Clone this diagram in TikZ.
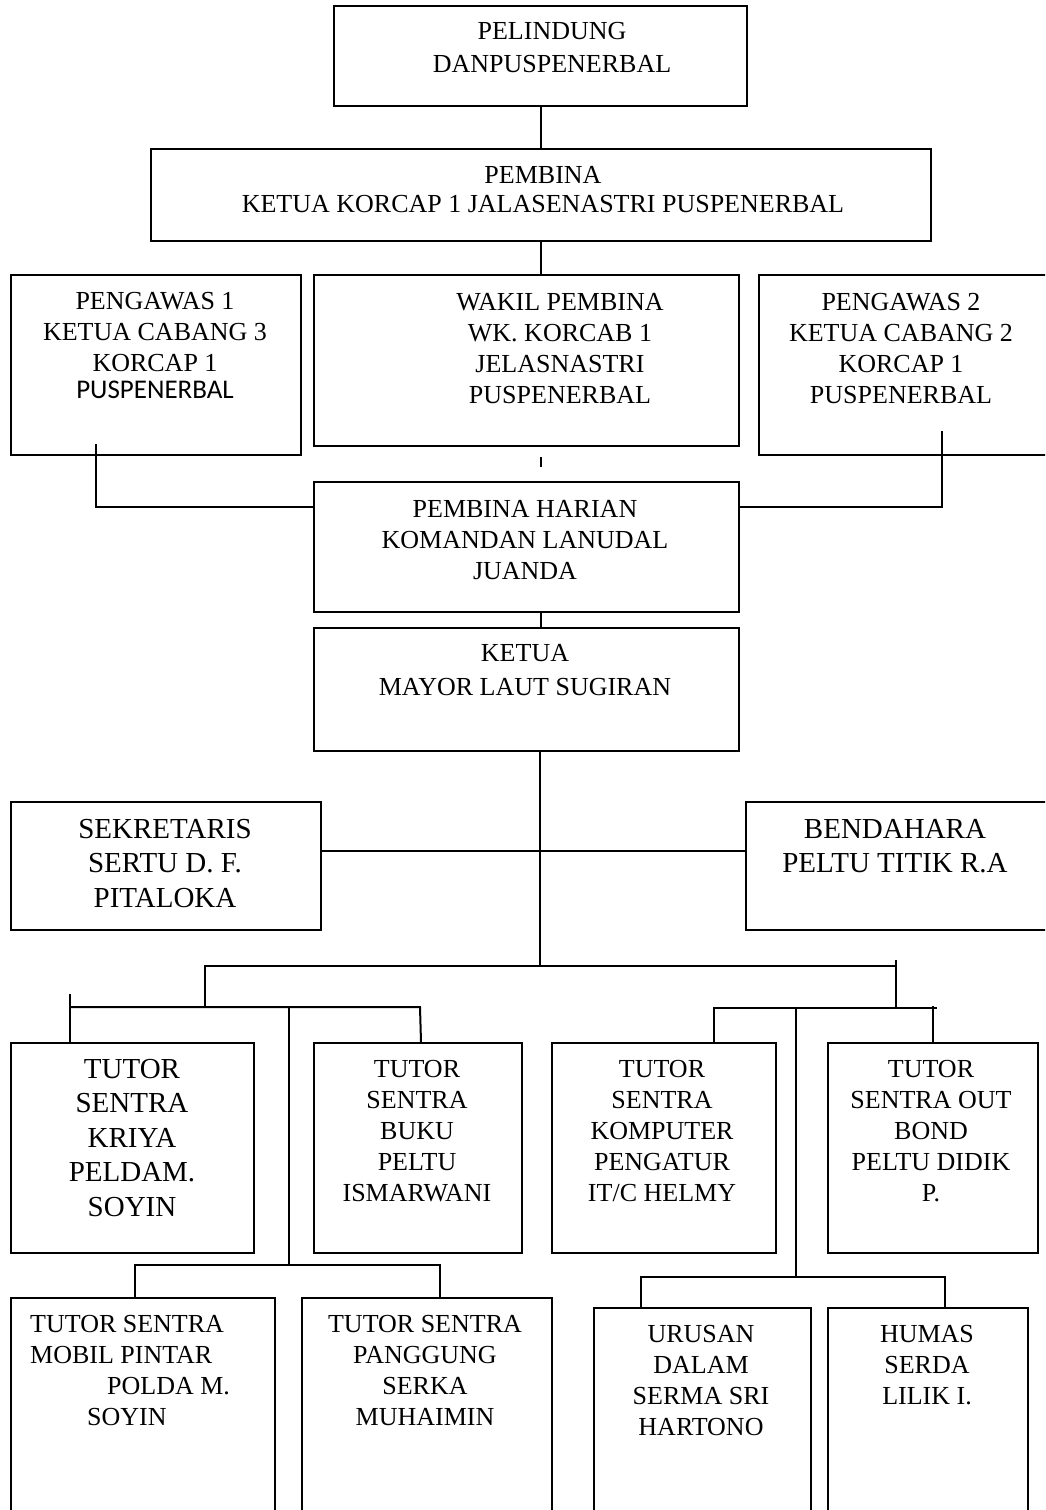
\documentclass[tikz,border=0pt]{standalone}
\usepackage{fontspec}
\setmainfont{Liberation Serif}
\newfontfamily\calibri{Carlito}
\usetikzlibrary{calc}

\tikzset{
  box/.style={draw, line width=2pt, inner sep=0pt, anchor=north west},
  txt/.style={align=center, inner sep=0pt, anchor=north, font=\fontsize{26}{31}\selectfont},
  bigtxt/.style={txt, font=\fontsize{29}{34.5}\selectfont},
  link/.style={line width=2pt}
}

\begin{document}
\begin{tikzpicture}[x=1pt, y=-1pt]
\useasboundingbox (0,0) rectangle (1045,1510);
\clip (0,0) rectangle (1045,1510);

% top of the chart
\node[box, minimum width=413, minimum height=100] (pel) at (333,5) {};
\node[txt] at (552,22) {PELINDUNG\\[2pt]DANPUSPENERBAL};
\node[box, minimum width=780, minimum height=92] (pemb) at (150,148) {};
\node[txt] at (543,166) {PEMBINA\\[-2pt]KETUA KORCAP 1 JALASENASTRI PUSPENERBAL};

\node[box, minimum width=290, minimum height=180] (peng1) at (10,274) {};
\node[txt] at (155,292) {PENGAWAS 1\\KETUA CABANG 3\\KORCAP 1\\[-4pt]{\calibri\fontsize{27}{31}\selectfont PUSPENERBAL}};
\node[box, minimum width=425, minimum height=171] (wakil) at (313,274) {};
\node[txt] at (560,293) {WAKIL PEMBINA\\WK. KORCAB 1\\JELASNASTRI\\PUSPENERBAL};
\node[box, minimum width=292, minimum height=180] (peng2) at (758,274) {};
\node[txt] at (901,293) {PENGAWAS 2\\KETUA CABANG 2\\KORCAP 1\\PUSPENERBAL};

\node[box, minimum width=425, minimum height=130] (harian) at (313,481) {};
\node[txt] at (525,500) {PEMBINA HARIAN\\KOMANDAN LANUDAL\\JUANDA};
\node[box, minimum width=425, minimum height=123] (ketua) at (313,627) {};
\node[txt] at (525,644) {KETUA\\[3pt]MAYOR LAUT SUGIRAN};

\node[box, minimum width=310, minimum height=128] (sek) at (10,801) {};
\node[bigtxt] at (165,819) {SEKRETARIS\\SERTU D. F.\\PITALOKA};
\node[box, minimum width=305, minimum height=128] (bend) at (745,801) {};
\node[bigtxt] at (895,819) {BENDAHARA\\PELTU TITIK R.A};

% tutor
\node[box, minimum width=243, minimum height=210] (kriya) at (10,1042) {};
\node[bigtxt] at (132,1059) {TUTOR\\SENTRA\\KRIYA\\PELDAM.\\SOYIN};
\node[box, minimum width=208, minimum height=210] (buku) at (313,1042) {};
\node[txt] at (417,1060) {TUTOR\\SENTRA\\BUKU\\PELTU\\ISMARWANI};
\node[box, minimum width=224, minimum height=210] (komp) at (551,1042) {};
\node[txt] at (662,1060) {TUTOR\\SENTRA\\KOMPUTER\\PENGATUR\\IT/C HELMY};
\node[box, minimum width=210, minimum height=210] (outb) at (827,1042) {};
\node[txt] at (931,1060) {TUTOR\\SENTRA OUT\\BOND\\PELTU DIDIK\\P.};

\node[box, minimum width=264, minimum height=240] (mobil) at (10,1297) {};
\node[txt, align=left, anchor=north west] at (30,1315) {TUTOR SENTRA\\MOBIL PINTAR\\\hspace*{77pt}POLDA M.\\\hspace*{57pt}SOYIN};
\node[box, minimum width=250, minimum height=240] (pang) at (301,1297) {};
\node[txt] at (425,1315) {TUTOR SENTRA\\PANGGUNG\\SERKA\\MUHAIMIN};
\node[box, minimum width=217, minimum height=230] (urus) at (593,1307) {};
\node[txt] at (701,1325) {URUSAN\\DALAM\\SERMA SRI\\HARTONO};
\node[box, minimum width=200, minimum height=230] (humas) at (827,1307) {};
\node[txt] at (927,1325) {HUMAS\\SERDA\\LILIK I.};

% lines
\draw[link] (pel.south) -- (pel.south |- pemb.north);
\draw[link] (pemb.south) -- (pemb.south |- wakil.north);
\draw[link] ([xshift=14pt,yshift=-10pt]wakil.south) -- ([xshift=14pt,yshift=14pt]harian.north);
\draw[link] ([xshift=-60pt,yshift=12pt]peng1.south) |- ([yshift=40pt]harian.west);
\draw[link] ([xshift=37pt,yshift=25pt]peng2.south) |- ([yshift=40pt]harian.east);
\draw[link] ([xshift=14pt]harian.south) -- ([xshift=14pt]harian.south |- ketua.north);
\draw[link] ([yshift=15pt]sek.east) -- ([yshift=15pt]bend.west);

\coordinate (hub) at (539.5,966);
\coordinate (lbus) at (205,1007);
\coordinate (rbus) at (896,1008);
\draw[link] (hub |- ketua.south) -- (hub);
\draw[link] (lbus) |- (hub) -| (896,960) -- (rbus);

% left group
\draw[link] (70,994) -- (70,1042);
\draw[link] (70,1007) -- (420,1007) -- ([xshift=3pt]buku.north);
\coordinate (lsub) at (289,1265);
\draw[link] (289,1007) -- (lsub);
\draw[link] (mobil.north -| 135,0) -- (135,1265) -- (440,1265) -- (pang.north -| 440,0);

% right group
\draw[link] (komp.north -| 714,0) -- (714,1008) -- (937,1008);
\draw[link] (933,1006) -- (outb.north -| 933,0);
\coordinate (rsub) at (796,1277);
\draw[link] (796,1008) -- (rsub);
\draw[link] (urus.north -| 641,0) -- (641,1277) -- (945,1277) -- (humas.north -| 945,0);
\end{tikzpicture}
\end{document}
